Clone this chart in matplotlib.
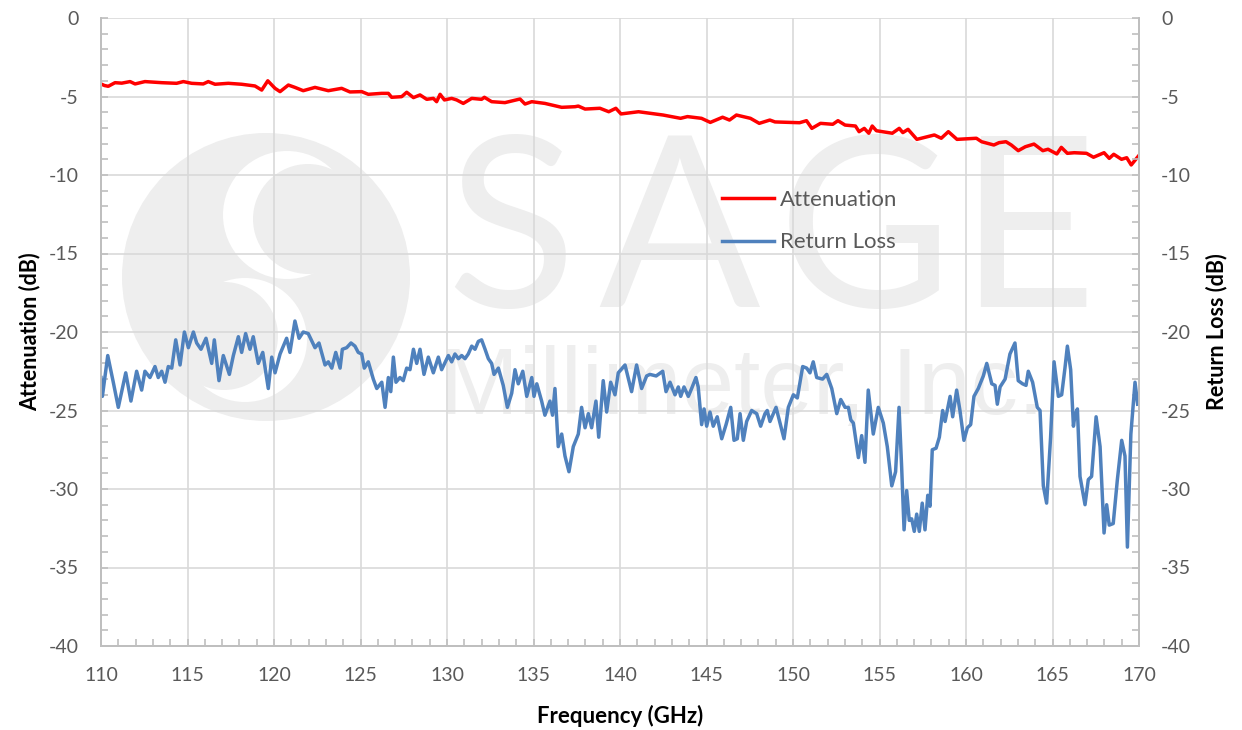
import matplotlib
matplotlib.use("Agg")
import matplotlib.pyplot as plt
from matplotlib.patches import Circle
from matplotlib.ticker import MultipleLocator

plt.rcParams['font.family'] = ['Lato', 'DejaVu Sans']
plt.rcParams['axes.unicode_minus'] = False

# attenuation trace (GHz, dB)
att_freq = [110.00, 110.20, 110.42, 110.81, 111.20, 111.68, 111.97, 112.54, 113.51, 114.37,
            114.76, 115.24, 115.91, 116.20, 116.59, 117.36, 118.13, 118.90, 119.29, 119.64,
            120.06, 120.35, 120.83, 121.21, 121.69, 122.37, 123.14, 123.91, 124.39, 125.07,
            125.45, 126.22, 126.61, 126.80, 127.38, 127.67, 128.06, 128.44, 128.83, 129.21,
            129.40, 129.60, 129.85, 130.27, 130.56, 130.94, 131.43, 132.00, 132.16, 132.58,
            133.35, 134.22, 134.51, 134.90, 135.66, 136.63, 137.40, 137.59, 137.98, 138.84,
            139.35, 139.76, 140.06, 141.07, 142.49, 143.50, 143.90, 144.71, 145.22, 145.93,
            146.33, 146.73, 147.54, 148.05, 148.66, 148.96, 150.38, 150.78, 151.09, 151.59,
            152.30, 152.60, 153.01, 153.61, 153.82, 154.12, 154.38, 154.58, 154.82, 155.74,
            156.14, 156.35, 156.65, 157.16, 158.17, 158.57, 158.98, 159.48, 160.60, 160.90,
            161.61, 161.91, 162.31, 162.62, 163.02, 163.43, 163.93, 164.44, 164.74, 165.25,
            165.51, 165.86, 166.26, 166.97, 167.37, 167.98, 168.28, 168.54, 168.99, 169.29,
            169.55, 170.00]
att_db = [-4.20, -4.30, -4.35, -4.12, -4.15, -4.05, -4.20, -4.05, -4.12, -4.16,
          -4.05, -4.16, -4.20, -4.05, -4.22, -4.16, -4.22, -4.33, -4.59, -4.00,
          -4.48, -4.69, -4.27, -4.42, -4.63, -4.42, -4.63, -4.48, -4.71, -4.69,
          -4.86, -4.80, -4.80, -5.05, -5.01, -4.73, -5.07, -4.90, -5.18, -5.12,
          -5.33, -4.86, -5.22, -5.12, -5.22, -5.44, -5.12, -5.18, -5.05, -5.33,
          -5.39, -5.16, -5.48, -5.33, -5.44, -5.69, -5.65, -5.61, -5.80, -5.75,
          -5.97, -5.75, -6.11, -5.97, -6.18, -6.39, -6.28, -6.39, -6.65, -6.32,
          -6.50, -6.18, -6.39, -6.71, -6.50, -6.62, -6.67, -6.54, -7.03, -6.71,
          -6.77, -6.54, -6.82, -6.88, -7.24, -7.03, -7.34, -6.88, -7.18, -7.34,
          -7.03, -7.30, -7.09, -7.73, -7.45, -7.66, -7.24, -7.73, -7.66, -7.88,
          -8.09, -7.94, -7.88, -8.09, -8.45, -8.20, -8.03, -8.45, -8.36, -8.66,
          -8.24, -8.62, -8.58, -8.62, -8.87, -8.58, -8.94, -8.68, -9.00, -8.90,
          -9.36, -8.75]

# return loss trace (GHz, dB)
rl_freq = [110.00, 110.08, 110.39, 110.71, 111.00, 111.43, 111.73, 112.06, 112.35, 112.54,
           112.83, 113.12, 113.31, 113.51, 113.70, 113.89, 114.09, 114.32, 114.57, 114.82,
           115.05, 115.34, 115.53, 115.78, 116.07, 116.40, 116.55, 116.82, 117.07, 117.42,
           117.65, 117.94, 118.13, 118.36, 118.61, 118.80, 119.09, 119.35, 119.67, 119.87,
           120.06, 120.35, 120.73, 120.92, 121.21, 121.45, 121.69, 121.98, 122.37, 122.60,
           122.95, 123.14, 123.34, 123.57, 123.82, 123.95, 124.20, 124.45, 124.68, 124.87,
           125.07, 125.22, 125.45, 125.74, 125.94, 126.23, 126.42, 126.61, 126.75, 126.90,
           127.05, 127.28, 127.47, 127.67, 127.86, 128.06, 128.25, 128.44, 128.67, 128.92,
           129.21, 129.50, 129.69, 130.08, 130.27, 130.46, 130.66, 130.85, 131.04, 131.23,
           131.43, 131.62, 131.81, 132.00, 132.20, 132.39, 132.58, 132.72, 132.97, 133.25,
           133.49, 133.74, 133.93, 134.12, 134.38, 134.61, 134.90, 135.03, 135.19, 135.47,
           135.66, 135.95, 136.10, 136.24, 136.43, 136.63, 136.82, 137.05, 137.30, 137.59,
           137.78, 137.98, 138.17, 138.36, 138.61, 138.77, 139.03, 139.23, 139.46, 139.71,
           139.90, 140.29, 140.67, 140.96, 141.25, 141.54, 141.73, 142.09, 142.47, 142.66,
           142.89, 143.18, 143.37, 143.51, 143.70, 143.95, 144.14, 144.39, 144.52, 144.72,
           144.86, 145.01, 145.20, 145.39, 145.62, 145.88, 146.13, 146.40, 146.59, 146.78,
           146.94, 147.13, 147.32, 147.61, 147.90, 148.13, 148.38, 148.51, 148.67, 149.02,
           149.25, 149.48, 149.73, 150.02, 150.25, 150.56, 150.79, 150.98, 151.17, 151.37,
           151.71, 151.95, 152.24, 152.53, 152.76, 153.01, 153.20, 153.34, 153.49, 153.78,
           153.97, 154.16, 154.35, 154.64, 154.93, 155.22, 155.45, 155.71, 155.93, 156.13,
           156.28, 156.42, 156.57, 156.72, 156.86, 157.01, 157.15, 157.30, 157.47, 157.63,
           157.79, 157.92, 158.05, 158.27, 158.46, 158.65, 158.79, 159.08, 159.23, 159.46,
           159.65, 159.88, 160.08, 160.27, 160.46, 160.71, 161.00, 161.20, 161.49, 161.68,
           161.81, 161.97, 162.26, 162.54, 162.83, 163.02, 163.27, 163.47, 163.60, 163.85,
           164.12, 164.28, 164.47, 164.66, 164.89, 165.09, 165.34, 165.53, 165.72, 165.86,
           166.05, 166.21, 166.30, 166.44, 166.59, 166.88, 167.07, 167.26, 167.52, 167.75,
           167.98, 168.13, 168.28, 168.51, 168.75, 169.00, 169.19, 169.33, 169.53, 169.77,
           169.92]
rl_db = [-22.9, -24.1, -21.5, -23.2, -24.8, -22.6, -24.4, -22.5, -23.7, -22.5,
         -22.9, -22.2, -22.9, -22.5, -23.2, -22.2, -22.3, -20.5, -22.1, -20.0,
         -21.0, -20.0, -20.7, -21.1, -20.4, -22.0, -20.5, -23.1, -21.5, -22.7,
         -21.5, -20.3, -21.3, -20.1, -21.1, -20.3, -22.0, -21.3, -23.6, -21.6,
         -22.6, -21.4, -20.4, -21.3, -19.3, -20.4, -20.0, -20.1, -21.0, -20.7,
         -22.1, -21.9, -22.3, -21.3, -22.3, -21.1, -21.0, -20.7, -20.9, -21.3,
         -21.4, -22.3, -21.9, -23.0, -23.6, -23.2, -24.8, -22.9, -23.8, -21.6,
         -23.2, -22.9, -23.1, -22.3, -22.4, -21.1, -22.0, -21.1, -22.7, -21.6,
         -22.6, -21.6, -22.4, -21.5, -21.9, -21.4, -21.7, -21.5, -21.7, -21.4,
         -20.9, -21.1, -20.6, -20.5, -21.1, -21.7, -22.0, -22.7, -22.3, -23.4,
         -24.8, -23.9, -22.4, -23.3, -22.5, -24.1, -22.9, -24.1, -23.3, -24.4,
         -25.3, -24.4, -25.3, -23.6, -27.3, -26.5, -27.9, -28.9, -27.3, -26.5,
         -24.8, -26.1, -25.2, -26.1, -24.4, -26.7, -23.1, -25.1, -23.2, -24.0,
         -22.6, -22.1, -23.8, -22.1, -23.6, -22.8, -22.7, -22.8, -22.5, -23.8,
         -23.2, -24.0, -23.5, -24.1, -23.5, -24.1, -23.6, -22.9, -23.5, -25.9,
         -24.9, -26.0, -25.1, -26.0, -25.4, -26.8, -25.9, -24.8, -26.9, -26.8,
         -25.2, -26.9, -25.7, -25.0, -25.2, -26.0, -25.2, -25.0, -25.7, -24.8,
         -25.8, -26.8, -24.8, -24.0, -24.2, -22.2, -22.3, -22.6, -21.9, -22.9,
         -23.0, -22.7, -23.6, -25.2, -24.3, -24.8, -24.8, -25.6, -25.8, -28.0,
         -26.6, -28.3, -23.7, -26.5, -24.8, -25.8, -27.3, -29.8, -28.9, -24.8,
         -28.6, -32.6, -30.1, -32.0, -31.9, -32.7, -31.6, -32.7, -30.9, -32.6,
         -30.4, -31.1, -27.5, -27.4, -26.7, -25.0, -25.7, -24.1, -25.4, -23.7,
         -25.0, -26.9, -26.1, -25.9, -24.1, -23.6, -22.8, -22.0, -23.3, -23.4,
         -24.6, -23.5, -23.0, -21.4, -20.7, -23.1, -23.3, -23.4, -22.5, -23.2,
         -24.8, -25.0, -29.8, -30.9, -26.7, -21.9, -24.1, -24.0, -22.3, -20.9,
         -22.4, -26.0, -25.3, -24.9, -29.2, -31.0, -29.4, -29.2, -25.4, -27.3,
         -32.8, -31.0, -32.3, -32.2, -29.4, -26.9, -27.9, -33.7, -26.5, -23.2,
         -24.6]

x_ticks = [110, 115, 120, 125, 130, 135, 140, 145, 150, 155, 160, 165, 170]
y_ticks = [0, -5, -10, -15, -20, -25, -30, -35, -40]

W, H = 1242, 730
fig = plt.figure(figsize=(W / 100, H / 100), dpi=100)

# faint company watermark behind the plot (figure pixel coordinates)
wm = fig.add_axes([0, 0, 1, 1], zorder=-1)
wm.set_xlim(0, W)
wm.set_ylim(H, 0)
wm.axis('off')
gray = '#eeeeee'
outer = Circle((266, 277), 144, color=gray, lw=0)
wm.add_patch(outer)
for (cx, cy, r), (gx, gy, gr) in [((287, 215, 64), (308, 219, 55)),
                                  ((245, 340, 62), (224, 336, 54))]:
    w = Circle((cx, cy), r, color='white', lw=0)
    g = Circle((gx, gy), gr, color=gray, lw=0)
    wm.add_patch(w)
    wm.add_patch(g)
    w.set_clip_path(outer)
    g.set_clip_path(outer)
for letter, lx in zip('SAGE', [446, 598, 778, 958]):
    wm.text(lx, 307, letter, fontsize=172, color='#eeeeee', ha='left', va='baseline')
wm.text(440, 414, 'Millimeter, Inc.', fontsize=68, color='#eeeeee',
        family='Liberation Sans', ha='left', va='baseline')

ax = fig.add_axes([101 / W, 1 - 646 / H, (1139 - 101) / W, (646 - 18) / H])
ax.set_facecolor('none')
ax2 = ax.twinx()

ax.plot(att_freq, att_db, color='#ff0000', lw=2.5, label='Attenuation')
ax2.plot(rl_freq, rl_db, color='#4f81bd', lw=2.5, label='Return Loss')

for a in (ax, ax2):
    a.set_xlim(110, 170)
    a.set_ylim(-40, 0)
    a.set_yticks(y_ticks)
    a.yaxis.set_minor_locator(MultipleLocator(1))
    for s in a.spines.values():
        s.set_color('#bfbfbf')
        s.set_linewidth(1.3)
    a.spines['top'].set_visible(False)

ax.set_xticks(x_ticks)
ax.xaxis.set_minor_locator(MultipleLocator(1))
ax.grid(True, which='major', color='#d9d9d9', lw=1.2)
ax.set_axisbelow(True)

ax.tick_params(axis='both', which='both', direction='in', color='#bfbfbf',
               length=5, width=1.2, labelsize=14, labelcolor='#595959')
ax.tick_params(axis='y', pad=16)
ax.tick_params(axis='x', pad=15)
ax2.tick_params(axis='y', which='both', direction='in', color='#bfbfbf',
                length=5, width=1.2, labelsize=14, labelcolor='#595959', pad=16)

ax.set_xlabel('Frequency (GHz)', fontsize=16, fontweight='bold', labelpad=15)
ax.set_ylabel('Attenuation (dB)', fontsize=15.5, fontweight='bold', labelpad=6)
ax2.set_ylabel('Return Loss (dB)', fontsize=15.5, fontweight='bold', labelpad=10)

h1, l1 = ax.get_legend_handles_labels()
h2, l2 = ax2.get_legend_handles_labels()
leg = ax2.legend(h1 + h2, l1 + l2, loc='upper left', bbox_to_anchor=(0.598, 0.726),
                 frameon=False, fontsize=16, handlelength=2.35, handletextpad=0.25,
                 labelspacing=1.0, borderpad=0, borderaxespad=0)
for t in leg.get_texts():
    t.set_color('#595959')

fig.savefig('out.png', dpi=100)
